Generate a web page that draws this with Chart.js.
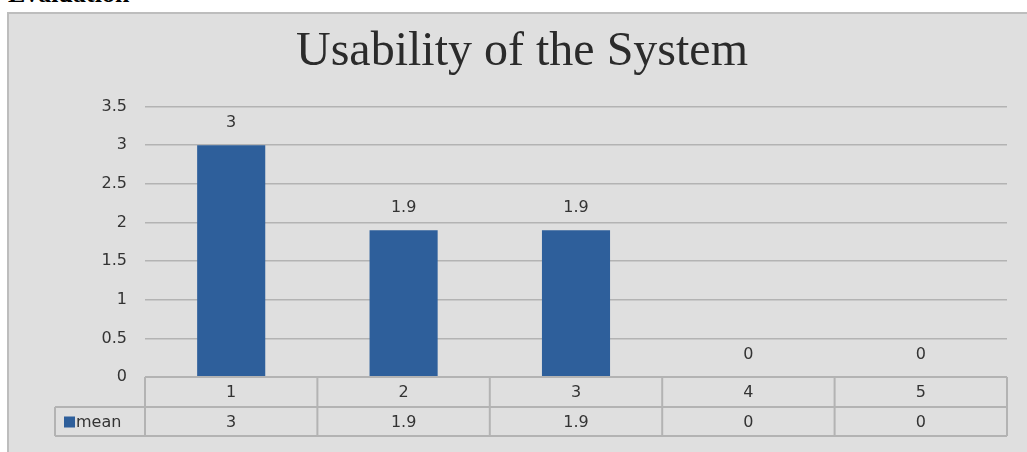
<!DOCTYPE html>
<html>
<head>
<meta charset="utf-8">
<script src="https://cdn.jsdelivr.net/npm/chart.js@4.4.1/dist/chart.umd.min.js"></script>
<style>
  html, body { margin: 0; padding: 0; background: #ffffff; overflow: hidden; }
  body { width: 1027px; height: 452px; position: relative; }
  #heading {
    position: absolute; left: 8px; top: -19px;
    font-family: "Liberation Serif", "DejaVu Serif", serif;
    font-weight: bold; font-size: 26px; line-height: 26px; color: #000; white-space: nowrap;
  }
  #frame {
    position: absolute; left: 7px; top: 12px; width: 1100px; height: 500px;
    background: #dfdfdf; border: 2px solid #bdbdbd; box-sizing: border-box;
  }
  #wrap { position: absolute; left: 7px; top: 13px; width: 1020px; height: 439px; }
</style>
</head>
<body>
<div id="heading">Evaluation</div>
<div id="frame"></div>
<div id="wrap"><canvas id="c"></canvas></div>
<script>
// Chart data
const categories = ['1', '2', '3', '4', '5'];
const meanValues = [3, 1.9, 1.9, 0, 0];
const seriesName = 'mean';
const chartTitle = 'Usability of the System';

const barColor = '#2e5f9b';
const gridColor = '#b3b3b3';
const textColor = '#333333';
const tickFont = 'DejaVu Sans';
const tickSize = 16;

// Value labels above each bar
const valueLabels = {
  id: 'valueLabels',
  afterDatasetsDraw(chart) {
    const { ctx } = chart;
    const meta = chart.getDatasetMeta(0);
    ctx.save();
    ctx.font = tickSize + 'px "' + tickFont + '"';
    ctx.fillStyle = textColor;
    ctx.textAlign = 'center';
    ctx.textBaseline = 'middle';
    meta.data.forEach((bar, i) => {
      ctx.fillText(String(meanValues[i]), bar.x, bar.y - 22);
    });
    ctx.restore();
  }
};

// Data table under the plot: category row and a legend row with values
const dataTable = {
  id: 'dataTable',
  afterDraw(chart) {
    const { ctx, chartArea } = chart;
    const x = chart.scales.x;
    const left = chartArea.left, right = chartArea.right;
    const top = chartArea.bottom;
    const row1 = top + 30, row2 = top + 59;
    const legendLeft = left - 90;
    const step = (right - left) / categories.length;

    ctx.save();
    ctx.strokeStyle = gridColor;
    ctx.lineWidth = 2;
    ctx.beginPath();
    // horizontal rules
    ctx.moveTo(left, top); ctx.lineTo(right, top);
    ctx.moveTo(legendLeft, row1); ctx.lineTo(right, row1);
    ctx.moveTo(legendLeft, row2); ctx.lineTo(right, row2);
    // vertical rules
    ctx.moveTo(legendLeft, row1); ctx.lineTo(legendLeft, row2);
    for (let i = 0; i <= categories.length; i++) {
      const vx = left + i * step;
      ctx.moveTo(vx, top); ctx.lineTo(vx, row2);
    }
    ctx.stroke();

    ctx.font = tickSize + 'px "' + tickFont + '"';
    ctx.fillStyle = textColor;
    ctx.textAlign = 'center';
    ctx.textBaseline = 'middle';
    categories.forEach((c, i) => {
      const cx = x.getPixelForValue(i);
      ctx.fillText(c, cx, (top + row1) / 2 + 1);
      ctx.fillText(String(meanValues[i]), cx, (row1 + row2) / 2 + 1);
    });

    // legend key
    const midY = (row1 + row2) / 2;
    ctx.fillStyle = barColor;
    ctx.fillRect(legendLeft + 9, midY - 5, 11, 11);
    ctx.fillStyle = textColor;
    ctx.textAlign = 'left';
    ctx.fillText(seriesName, legendLeft + 21, midY + 1);
    ctx.restore();
  }
};

new Chart(document.getElementById('c'), {
  type: 'bar',
  data: {
    labels: categories,
    datasets: [{
      label: seriesName,
      data: meanValues,
      backgroundColor: barColor,
      borderWidth: 0,
      barPercentage: 0.395,
      categoryPercentage: 1
    }]
  },
  options: {
    responsive: true,
    maintainAspectRatio: false,
    animation: false,
    layout: { padding: { left: 30, right: 20, top: 0, bottom: 75 } },
    plugins: {
      legend: { display: false },
      tooltip: { enabled: false },
      title: {
        display: true,
        text: chartTitle,
        color: '#2b2b2b',
        font: { family: '"Liberation Serif", "Times New Roman", serif', size: 48, weight: 'normal' },
        padding: { top: 11, bottom: 25 }
      }
    },
    scales: {
      x: { display: false },
      y: {
        min: 0,
        max: 3.5,
        ticks: {
          stepSize: 0.5,
          color: textColor,
          font: { family: tickFont, size: tickSize },
          padding: 18,
          callback: (v) => String(v)
        },
        grid: { color: gridColor, lineWidth: 1.5, drawTicks: false },
        border: { display: false },
        afterFit(scale) { scale.width = 108; }
      }
    }
  },
  plugins: [valueLabels, dataTable]
});
</script>
</body>
</html>
